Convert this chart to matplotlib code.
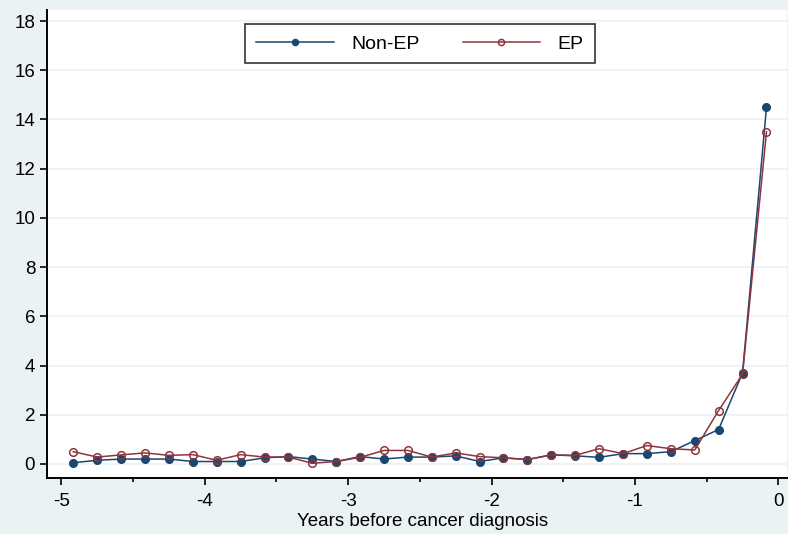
import matplotlib
matplotlib.use('Agg')
import matplotlib.pyplot as plt
from matplotlib.ticker import MultipleLocator

plt.rcParams['font.family'] = ['Liberation Sans', 'DejaVu Sans']

# months before diagnosis, in years (2-month bins)
years = [-4.917, -4.75, -4.583, -4.417, -4.25, -4.083, -3.917, -3.75, -3.583, -3.417,
         -3.25, -3.083, -2.917, -2.75, -2.583, -2.417, -2.25, -2.083, -1.917, -1.75,
         -1.583, -1.417, -1.25, -1.083, -0.917, -0.75, -0.583, -0.417, -0.25, -0.083]
non_ep = [0.05, 0.15, 0.2, 0.2, 0.2, 0.1, 0.1, 0.1, 0.25, 0.3,
          0.2, 0.1, 0.3, 0.2, 0.28, 0.28, 0.33, 0.1, 0.25, 0.18,
          0.37, 0.33, 0.27, 0.42, 0.42, 0.5, 0.95, 1.4, 3.7, 14.5]
ep = [0.5, 0.28, 0.37, 0.45, 0.35, 0.38, 0.15, 0.38, 0.28, 0.28,
      0.03, 0.1, 0.27, 0.55, 0.55, 0.28, 0.45, 0.3, 0.25, 0.18,
      0.37, 0.35, 0.62, 0.42, 0.75, 0.62, 0.57, 2.17, 3.65, 13.5]

blue = '#1a476f'
red = '#90353b'
bg = '#eaf2f3'

fig = plt.figure(figsize=(7.88, 5.34), dpi=100, facecolor=bg)
ax = fig.add_axes([47/788, 1-478/534, 740/788, 468/534])
ax.set_facecolor('white')

ax.plot(years, non_ep, color=blue, lw=1.1, marker='o', ms=5.5,
        mfc=blue, mec=blue, label='Non-EP', zorder=3)
ax.plot(years, ep, color=red, lw=1.1, marker='o', ms=5.5,
        mfc='none', mec=red, mew=1.1, label='EP', zorder=4)

ax.set_xlim(-5.1, 0.06)
ax.set_ylim(-0.57, 18.45)
ax.set_yticks(range(0, 19, 2))
ax.set_xticks([-5, -4, -3, -2, -1, 0])
ax.set_xticklabels(['-5', '-4', '-3', '-2', '-1', '0'])
ax.xaxis.set_minor_locator(MultipleLocator(0.5))
ax.tick_params(axis='both', labelsize=13.5, length=5, width=1.2, color='black')
ax.tick_params(axis='x', which='minor', length=3, width=1.2)
ax.tick_params(axis='x', pad=6)
ax.grid(axis='y', color=bg, lw=1.2, zorder=0)

for s in ['top', 'right']:
    ax.spines[s].set_visible(False)
for s in ['left', 'bottom']:
    ax.spines[s].set_linewidth(1.4)
    ax.spines[s].set_color('black')

leg = ax.legend(loc='upper center', bbox_to_anchor=(0.504, 0.99), ncol=2, fontsize=14,
                frameon=True, fancybox=False, edgecolor='black', handlelength=4,
                handletextpad=0.9, columnspacing=2.2, borderpad=0.55, markerscale=0.8)
leg.get_frame().set_linewidth(1.2)

fig.text(423/788, 1-521/534, 'Years before cancer diagnosis', ha='center', va='center',
         fontsize=13.5)

fig.savefig('out.png', dpi=100, facecolor=bg)
